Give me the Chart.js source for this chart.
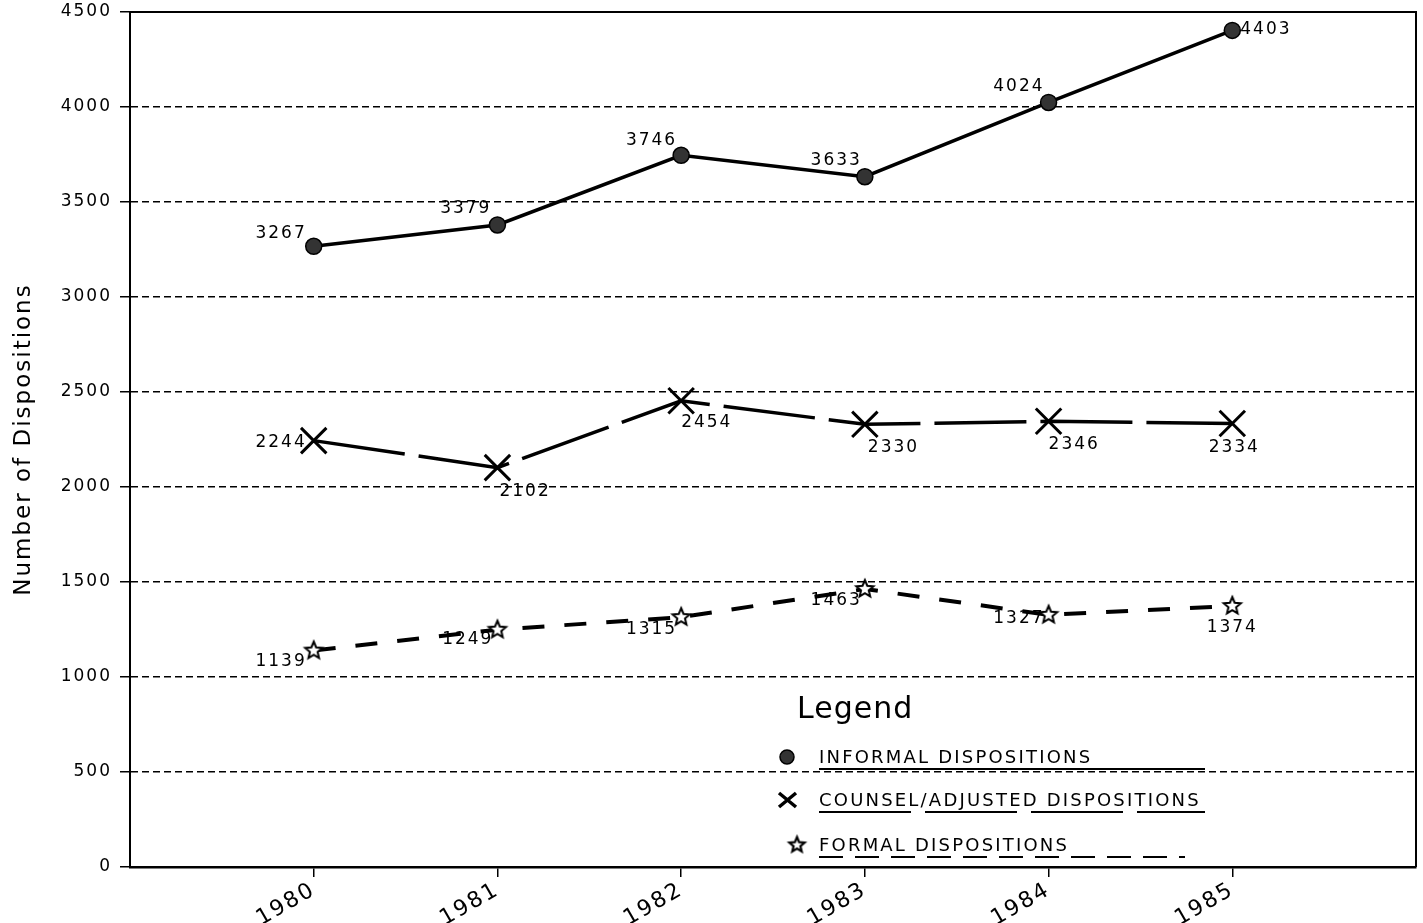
<!DOCTYPE html>
<html>
<head>
<meta charset="utf-8">
<script src="https://cdn.jsdelivr.net/npm/chart.js@4/dist/chart.umd.min.js"></script>
<style>
  html, body { margin: 0; padding: 0; background: #fff; }
  #wrap { width: 1423px; height: 923px; position: relative; }
</style>
</head>
<body>
<div id="wrap"><canvas id="c"></canvas></div>
<script>
// ---- data ----
const years = [1980, 1981, 1982, 1983, 1984, 1985];
const informal = [3267, 3379, 3746, 3633, 4024, 4403];
const counsel = [2244, 2102, 2454, 2330, 2346, 2334];
const formal = [1139, 1249, 1315, 1463, 1327, 1374];
const seriesNames = ['INFORMAL DISPOSITIONS', 'COUNSEL/ADJUSTED DISPOSITIONS', 'FORMAL DISPOSITIONS'];
const yAxisTitle = 'Number of Dispositions';
const legendTitle = 'Legend';

// ---- label placement (style only): [dx, dy, align] ----
const labelPlacement = [
  [[-7, -13, 'right'], [-6, -16, 'right'], [-4, -15, 'right'], [-3, -16, 'right'], [-4, -16, 'right'], [8, -1, 'left']],
  [[-7, 2, 'right'], [2, 24, 'left'], [0, 22, 'left'], [3, 23, 'left'], [0, 23, 'left'], [2, 24, 'center']],
  [[-7, 11, 'right'], [-4, 10, 'right'], [-4, 12, 'right'], [-3, 12, 'right'], [-4, 4, 'right'], [0, 22, 'center']]
];

const FONT = '"DejaVu Sans", sans-serif';
const lineDash = [[], [92, 14], [22, 20]];
const legendDash = [[], [92, 14], [24, 12]];

function starImage(r, lw) {
  const s = Math.ceil(2 * r + lw * 2 + 2);
  const c = document.createElement('canvas');
  c.width = s; c.height = s;
  const g = c.getContext('2d');
  const cx = s / 2, cy = s / 2, ri = r * 0.45;
  g.beginPath();
  for (let k = 0; k < 10; k++) {
    const rad = k % 2 === 0 ? r : ri;
    const a = -Math.PI / 2 + k * Math.PI / 5;
    const px = cx + rad * Math.cos(a), py = cy + rad * Math.sin(a);
    if (k === 0) g.moveTo(px, py); else g.lineTo(px, py);
  }
  g.closePath();
  g.fillStyle = '#fff';
  g.fill();
  g.lineWidth = lw;
  g.strokeStyle = '#000';
  g.lineJoin = 'miter';
  g.stroke();
  return c;
}
const starPt = starImage(9, 2);
const starLegend = starImage(8, 2.2);

const toPts = arr => arr.map((v, i) => ({ x: years[i], y: v }));

const decorPlugin = {
  id: 'decor',
  beforeDraw(chart) {
    const ctx = chart.ctx;
    ctx.save();
    ctx.fillStyle = '#fff';
    ctx.fillRect(0, 0, chart.width, chart.height);
    ctx.restore();
    try { ctx.letterSpacing = '2px'; } catch (e) {}
  },
  afterDatasetsDraw(chart) {
    const ctx = chart.ctx;
    ctx.save();
    ctx.font = '17px ' + FONT;
    ctx.fillStyle = '#000';
    ctx.textBaseline = 'middle';
    chart.data.datasets.forEach((ds, i) => {
      const meta = chart.getDatasetMeta(i);
      meta.data.forEach((pt, j) => {
        const p = labelPlacement[i][j];
        ctx.textAlign = p[2];
        ctx.fillText(String(ds.data[j].y), pt.x + p[0], pt.y + p[1]);
      });
    });
    ctx.restore();
  },
  afterDraw(chart) {
    const ctx = chart.ctx;
    const a = chart.chartArea;
    ctx.save();
    ctx.strokeStyle = '#000';
    ctx.lineWidth = 2;
    ctx.beginPath();
    ctx.moveTo(a.left, a.top);
    ctx.lineTo(a.right, a.top);
    ctx.lineTo(a.right, a.bottom);
    ctx.stroke();

    // legend
    ctx.fillStyle = '#000';
    ctx.textBaseline = 'alphabetic';
    ctx.textAlign = 'left';
    ctx.font = '30px ' + FONT;
    ctx.letterSpacing = '1px';
    ctx.fillText(legendTitle, 797, 718);

    ctx.font = '18px ' + FONT;
    ctx.letterSpacing = '2.2px';
    const rowsY = [757, 800, 845];
    const underEnd = [1205, 1205, 1185];
    for (let i = 0; i < 3; i++) {
      const y = rowsY[i];
      if (i === 0) {
        ctx.beginPath();
        ctx.arc(787, y, 7, 0, Math.PI * 2);
        ctx.fillStyle = '#333';
        ctx.fill();
        ctx.lineWidth = 1.5;
        ctx.strokeStyle = '#000';
        ctx.stroke();
      } else if (i === 1) {
        ctx.beginPath();
        ctx.moveTo(779, y - 7); ctx.lineTo(796, y + 7);
        ctx.moveTo(779, y + 7); ctx.lineTo(796, y - 7);
        ctx.lineWidth = 3.5;
        ctx.strokeStyle = '#000';
        ctx.stroke();
      } else {
        ctx.drawImage(starLegend, 797 - starLegend.width / 2, y - starLegend.height / 2);
      }
      ctx.fillStyle = '#000';
      ctx.textBaseline = 'middle';
      ctx.fillText(chart.data.datasets[i].label, 819, y + 1);
      ctx.beginPath();
      ctx.setLineDash(legendDash[i]);
      ctx.lineWidth = 1.8;
      ctx.moveTo(819, y + 12);
      ctx.lineTo(underEnd[i], y + 12);
      ctx.stroke();
      ctx.setLineDash([]);
    }
    ctx.restore();
    try { ctx.letterSpacing = '2px'; } catch (e) {}
  }
};

new Chart(document.getElementById('c'), {
  type: 'line',
  data: {
    datasets: [
      {
        label: seriesNames[0],
        data: toPts(informal),
        borderColor: '#000',
        borderWidth: 3.5,
        borderDash: lineDash[0],
        pointStyle: 'circle',
        pointRadius: 8,
        pointBackgroundColor: '#333',
        pointBorderColor: '#000',
        pointBorderWidth: 1.5,
        tension: 0
      },
      {
        label: seriesNames[1],
        data: toPts(counsel),
        borderColor: '#000',
        borderWidth: 3.5,
        borderDash: lineDash[1],
        pointStyle: 'crossRot',
        pointRadius: 18,
        pointBorderColor: '#000',
        pointBorderWidth: 3,
        tension: 0
      },
      {
        label: seriesNames[2],
        data: toPts(formal),
        borderColor: '#000',
        borderWidth: 4,
        borderDash: lineDash[2],
        pointStyle: starPt,
        pointRadius: 9,
        tension: 0
      }
    ]
  },
  options: {
    responsive: true,
    maintainAspectRatio: false,
    animation: false,
    events: [],
    layout: { autoPadding: false, padding: { left: 0, top: 12, right: 7, bottom: 0 } },
    plugins: {
      legend: { display: false },
      tooltip: { enabled: false }
    },
    scales: {
      x: {
        type: 'linear',
        min: 1979,
        max: 1986,
        afterBuildTicks(scale) {
          scale.ticks = years.map(v => ({ value: v }));
        },
        afterFit(scale) { scale.height = 56; scale.paddingLeft = 0; scale.paddingRight = 0; },
        ticks: {
          stepSize: 1,
          minRotation: 30,
          maxRotation: 30,
          padding: 0,
          color: '#000',
          font: { family: FONT, size: 22 },
          callback: v => String(v)
        },
        grid: {
          drawOnChartArea: false,
          drawTicks: true,
          tickLength: 10,
          color: '#000',
          lineWidth: 1.5
        },
        border: { display: true, color: '#000', width: 2.5 }
      },
      y: {
        min: 0,
        max: 4500,
        afterFit(scale) { scale.width = 130; scale.paddingTop = 0; scale.paddingBottom = 0; },
        ticks: {
          stepSize: 500,
          padding: 8,
          color: '#000',
          font: { family: FONT, size: 17 },
          callback: v => String(v)
        },
        title: {
          display: true,
          text: yAxisTitle,
          color: '#000',
          font: { family: FONT, size: 23 },
          padding: { top: 10, bottom: 0 }
        },
        grid: {
          color: '#000',
          lineWidth: 1.5,
          tickLength: 10,
          drawTicks: true
        },
        border: { display: true, color: '#000', width: 2, dash: [7, 4] }
      }
    }
  },
  plugins: [decorPlugin]
});
</script>
</body>
</html>
